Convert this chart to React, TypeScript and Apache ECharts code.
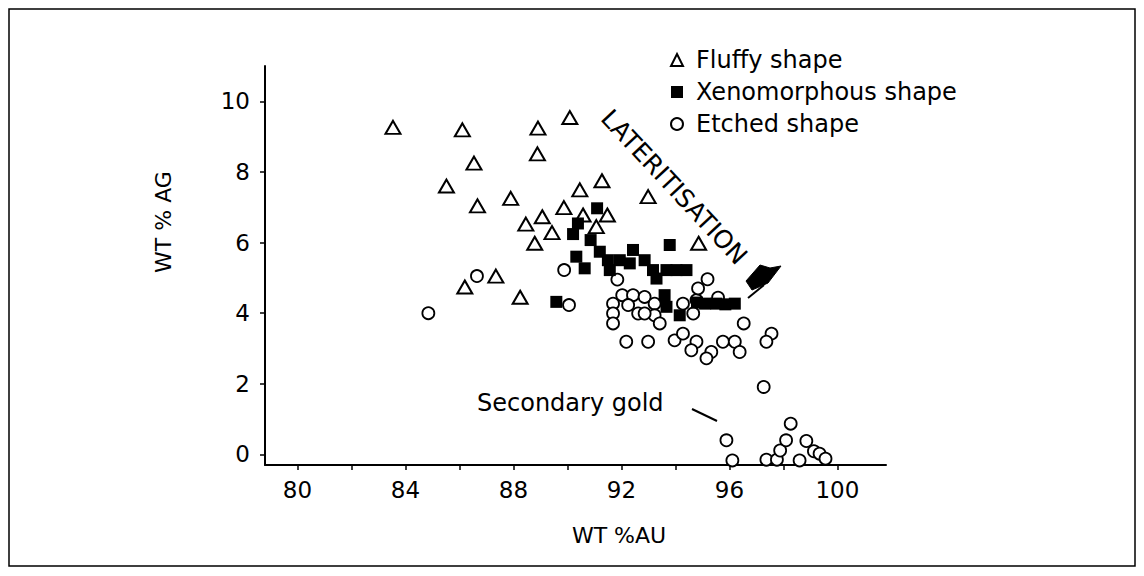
import React, { useEffect, useRef } from "react";
import * as echarts from "echarts";

// ---- data ----
const xTickValues = [80, 82, 84, 86, 88, 90, 92, 94, 96, 98, 100];
const xLabelValues = [80, 84, 88, 92, 96, 100];
const yTickValues = [0, 2, 4, 6, 8, 10];

const fluffyX = [83.54, 86.11, 88.91, 90.09, 86.54, 88.89, 85.52, 86.67, 87.9, 91.28, 90.46, 89.87, 89.07, 88.46, 89.43, 88.79, 90.58, 91.48, 91.07, 92.99, 94.86, 88.25, 86.2, 87.35];
const fluffyY = [9.26, 9.19, 9.24, 9.54, 8.25, 8.51, 7.6, 7.04, 7.25, 7.75, 7.49, 6.99, 6.73, 6.52, 6.28, 5.98, 6.78, 6.78, 6.45, 7.3, 5.98, 4.45, 4.74, 5.05];

const xenoX = [91.1, 90.39, 90.21, 90.86, 90.33, 90.64, 91.2, 91.5, 91.94, 91.57, 92.43, 92.31, 92.86, 93.17, 93.67, 94.04, 94.41, 93.79, 93.3, 93.6, 93.67, 94.16, 94.8, 95.1, 95.52, 95.85, 96.2, 89.59];
const xenoY = [6.97, 6.54, 6.24, 6.07, 5.6, 5.27, 5.74, 5.5, 5.5, 5.22, 5.79, 5.41, 5.5, 5.22, 5.22, 5.22, 5.22, 5.93, 4.98, 4.51, 4.18, 3.94, 4.3, 4.27, 4.27, 4.25, 4.27, 4.32];

const etchedX = [84.85, 86.65, 89.88, 90.06, 91.69, 92.03, 92.43, 92.86, 93.23, 92.25, 92.62, 93.23, 91.69, 91.69, 92.86, 93.42, 92.18, 92.99, 93.97, 94.28, 94.78, 94.59, 95.33, 95.76, 96.2, 96.38, 94.66, 94.78, 94.28, 95.15, 95.19, 94.84, 95.58, 96.53, 97.56, 97.37, 91.85, 97.27, 98.27, 95.89, 96.11, 97.37, 97.76, 97.88, 98.1, 98.6, 98.85, 99.13, 99.34, 99.56];
const etchedY = [4.0, 5.05, 5.22, 4.23, 4.27, 4.51, 4.51, 4.46, 4.27, 4.23, 3.99, 3.94, 3.99, 3.71, 3.99, 3.71, 3.19, 3.19, 3.23, 3.42, 3.19, 2.95, 2.9, 3.19, 3.19, 2.9, 3.99, 4.37, 4.27, 2.72, 4.96, 4.7, 4.44, 3.71, 3.42, 3.19, 4.95, 1.91, 0.87, 0.4, -0.17, -0.15, -0.15, 0.11, 0.4, -0.17, 0.38, 0.09, 0.02, -0.12];

const seriesNames = ["Fluffy shape", "Xenomorphous shape", "Etched shape"];

const pair = (xs: number[], ys: number[]) => xs.map((x, i) => [x, ys[i]]);

const FONT = "DejaVu Sans";

export default function App() {
  const ref = useRef<HTMLDivElement>(null);

  useEffect(() => {
    if (!ref.current) return;
    const chart = echarts.init(ref.current, undefined, { renderer: "svg" });
    chart.setOption({
      animation: false,
      backgroundColor: "#ffffff",
      grid: { left: 265, top: 66, width: 621, height: 399, containLabel: false },
      xAxis: {
        type: "value",
        min: 78.8,
        max: 101.8,
        axisLine: { show: true, onZero: false, lineStyle: { color: "#000", width: 2 } },
        axisTick: { show: true, customValues: xTickValues, length: 5, inside: false, lineStyle: { color: "#000", width: 1.5 } },
        axisLabel: { customValues: xLabelValues, color: "#000", fontFamily: FONT, fontSize: 23, margin: 13 },
        splitLine: { show: false },
      },
      yAxis: {
        type: "value",
        min: -0.3,
        max: 11,
        axisLine: { show: true, onZero: false, lineStyle: { color: "#000", width: 2 } },
        axisTick: { show: true, customValues: yTickValues, length: 5, inside: false, lineStyle: { color: "#000", width: 1.5 } },
        axisLabel: { customValues: yTickValues, color: "#000", fontFamily: FONT, fontSize: 23, margin: 15 },
        splitLine: { show: false },
      },
      legend: {
        orient: "vertical",
        left: 665,
        top: 43,
        itemWidth: 12,
        itemHeight: 12,
        itemGap: 8,
        data: [
          { name: seriesNames[0], icon: "triangle" },
          { name: seriesNames[1], icon: "rect" },
          { name: seriesNames[2], icon: "circle" },
        ],
        textStyle: { color: "#000", fontFamily: FONT, fontSize: 24, lineHeight: 24, padding: [0, 0, 0, 8] },
      },
      series: [
        {
          name: seriesNames[0],
          type: "scatter",
          symbol: "triangle",
          symbolSize: [15, 13],
          data: pair(fluffyX, fluffyY),
          itemStyle: { color: "#fff", borderColor: "#000", borderWidth: 2, opacity: 1 },
          z: 2,
        },
        {
          name: seriesNames[2],
          type: "scatter",
          symbol: "circle",
          symbolSize: 12,
          data: pair(etchedX, etchedY),
          itemStyle: { color: "#fff", borderColor: "#000", borderWidth: 1.8, opacity: 1 },
          z: 3,
        },
        {
          name: seriesNames[1],
          type: "scatter",
          symbol: "rect",
          symbolSize: 12,
          data: pair(xenoX, xenoY),
          itemStyle: { color: "#000", borderColor: "#000", borderWidth: 0, opacity: 1 },
          z: 4,
        },
      ],
      graphic: [
        {
          type: "rect",
          shape: { x: 9, y: 9, width: 1126, height: 557 },
          style: { fill: "none", stroke: "#000", lineWidth: 1.5 },
          silent: true,
        },
        {
          type: "text",
          x: 163,
          y: 222,
          rotation: Math.PI / 2,
          style: { text: "WT % AG", fill: "#000", font: `22px ${FONT}`, align: "center", verticalAlign: "middle" },
        },
        {
          type: "text",
          x: 619,
          y: 535,
          style: { text: "WT %AU", fill: "#000", font: `22px ${FONT}`, align: "center", verticalAlign: "middle" },
        },
        {
          type: "text",
          x: 674,
          y: 187,
          rotation: -47 * Math.PI / 180,
          style: { text: "LATERITISATION", fill: "#000", font: `25px ${FONT}`, align: "center", verticalAlign: "middle" },
        },
        {
          type: "polygon",
          shape: { points: [[746, 281], [760, 265], [770, 268], [781, 266], [768, 283], [752, 290]] },
          style: { fill: "#000", stroke: "#000", lineWidth: 1 },
        },
        {
          type: "line",
          shape: { x1: 748, y1: 298, x2: 764, y2: 285 },
          style: { stroke: "#000", lineWidth: 2 },
        },
        {
          type: "text",
          x: 477,
          y: 403,
          style: { text: "Secondary gold", fill: "#000", font: `24px ${FONT}`, align: "left", verticalAlign: "middle" },
        },
        {
          type: "line",
          shape: { x1: 692, y1: 409, x2: 717, y2: 421 },
          style: { stroke: "#000", lineWidth: 2 },
        },
      ],
    });
    return () => chart.dispose();
  }, []);

  return (
    <div
      ref={ref}
      style={{ position: "absolute", left: 0, top: 0, width: 1144, height: 576 }}
    />
  );
}
